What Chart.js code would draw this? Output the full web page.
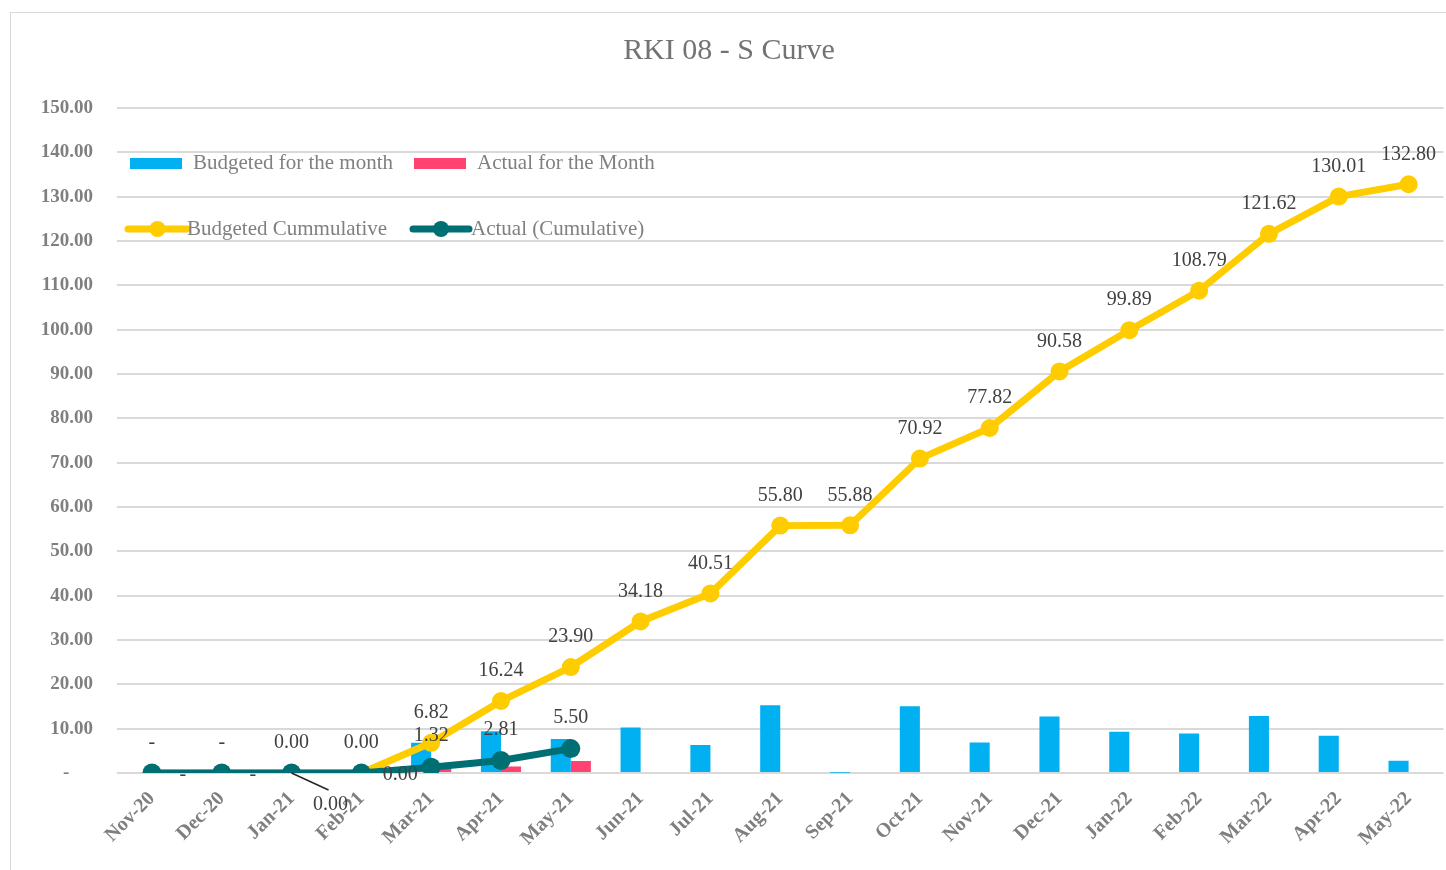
<!DOCTYPE html>
<html>
<head>
<meta charset="utf-8">
<title>RKI 08 - S Curve</title>
<script src="https://cdn.jsdelivr.net/npm/chart.js@4.4.0/dist/chart.umd.min.js"></script>
<style>
    html, body { margin: 0; padding: 0; background: #fff; overflow: hidden; }
    #frame {
        position: absolute;
        left: 10px;
        top: 12px;
        width: 1442px;
        height: 858px;
        border-left: 1px solid #d9d9d9;
        border-top: 1px solid #d9d9d9;
    }
    canvas { display: block; }
</style>
</head>
<body>
<div id="frame"><canvas id="sCurve"></canvas></div>
<script>
// Months on the x axis
const months = ['Nov-20', 'Dec-20', 'Jan-21', 'Feb-21', 'Mar-21', 'Apr-21', 'May-21', 'Jun-21', 'Jul-21',
    'Aug-21', 'Sep-21', 'Oct-21', 'Nov-21', 'Dec-21', 'Jan-22', 'Feb-22', 'Mar-22', 'Apr-22', 'May-22'];

// Monthly values (bars)
const budgetedMonth = [0, 0, 0, 0, 6.82, 9.42, 7.66, 10.28, 6.33, 15.29, 0.08, 15.04, 6.90, 12.76, 9.31, 8.90, 12.83, 8.39, 2.79];
const actualMonth = [0, 0, 0, 0, 1.32, 1.49, 2.69, null, null, null, null, null, null, null, null, null, null, null, null];

// Cumulative values (lines)
const budgetedCum = [0, 0, 0.001, 0.001, 6.82, 16.24, 23.90, 34.18, 40.51, 55.80, 55.88, 70.92, 77.82, 90.58, 99.89, 108.79, 121.62, 130.01, 132.80];
const actualCum = [0, 0, 0.001, 0.001, 1.32, 2.81, 5.50, null, null, null, null, null, null, null, null, null, null, null, null];

// Y axis
const yMin = 0;
const yMax = 150;
const yStep = 10;

const colors = {
    budgetBar: '#00b0f0',
    actualBar: '#ff4270',
    budgetLine: '#ffcc00',
    actualLine: '#006f73',
    grid: '#d9d9d9',
    axisText: '#7f7f7f',
    label: '#404040',
    legendText: '#808080',
    title: '#737373'
};

const serif = "'Liberation Serif', 'DejaVu Serif', serif";

const fmt = v => (v === 0 ? '-' : v.toFixed(2));

// Title and legend drawn straight onto the canvas
const decorPlugin = {
    id: 'decor',
    afterDraw(chart) {
        const ctx = chart.ctx;
        const area = chart.chartArea;
        ctx.save();

        ctx.fillStyle = colors.title;
        ctx.font = '30px ' + serif;
        ctx.textAlign = 'center';
        ctx.textBaseline = 'middle';
        ctx.fillText('RKI 08 - S Curve', 718, 38);

        ctx.font = '21px ' + serif;
        ctx.textAlign = 'left';

        const x0 = area.left;
        const row1 = area.top + 55;
        const row2 = area.top + 121;

        // bar entries
        ctx.fillStyle = colors.budgetBar;
        ctx.fillRect(x0 + 13, row1 - 5, 52, 11);
        ctx.fillStyle = colors.actualBar;
        ctx.fillRect(x0 + 297, row1 - 5, 52, 11);
        ctx.fillStyle = colors.legendText;
        ctx.fillText('Budgeted for the month', x0 + 76, row1);
        ctx.fillText('Actual for the Month', x0 + 360, row1);

        // line entries
        const lineEntry = (xa, xb, color) => {
            ctx.strokeStyle = color;
            ctx.lineWidth = 7;
            ctx.lineCap = 'round';
            ctx.beginPath();
            ctx.moveTo(xa, row2);
            ctx.lineTo(xb, row2);
            ctx.stroke();
            ctx.fillStyle = color;
            ctx.beginPath();
            ctx.arc((xa + xb) / 2, row2, 8, 0, Math.PI * 2);
            ctx.fill();
        };
        lineEntry(x0 + 11, x0 + 70, colors.budgetLine);
        lineEntry(x0 + 296, x0 + 352, colors.actualLine);
        ctx.fillStyle = colors.legendText;
        ctx.fillText('Budgeted Cummulative', x0 + 70, row2);
        ctx.fillText('Actual (Cumulative)', x0 + 354, row2);

        ctx.restore();
    }
};

// Value labels for the two cumulative lines
const valueLabelPlugin = {
    id: 'valueLabels',
    afterDatasetsDraw(chart) {
        const ctx = chart.ctx;
        ctx.save();
        ctx.font = '20px ' + serif;
        ctx.fillStyle = colors.label;
        ctx.textAlign = 'center';
        ctx.textBaseline = 'middle';

        // dataset 1: budgeted cumulative
        chart.getDatasetMeta(1).data.forEach((pt, i) => {
            const v = budgetedCum[i];
            if (v == null) return;
            ctx.fillText(fmt(v), pt.x, pt.y - 30);
        });

        // dataset 0: actual cumulative
        chart.getDatasetMeta(0).data.forEach((pt, i) => {
            const v = actualCum[i];
            if (v == null) return;
            if (i < 2) {
                ctx.fillText(fmt(v), pt.x + 31, pt.y + 2);
            } else if (i === 2) {
                ctx.strokeStyle = '#262626';
                ctx.lineWidth = 1.5;
                ctx.beginPath();
                ctx.moveTo(pt.x, pt.y);
                ctx.lineTo(pt.x + 37, pt.y + 17);
                ctx.stroke();
                ctx.fillText(fmt(v), pt.x + 39, pt.y + 32);
            } else if (i === 3) {
                ctx.fillText(fmt(v), pt.x + 39, pt.y + 2);
            } else {
                ctx.fillText(fmt(v), pt.x, pt.y - 31);
            }
        });
        ctx.restore();
    }
};

new Chart(document.getElementById('sCurve'), {
    data: {
        labels: months,
        datasets: [{
            type: 'line',
            label: 'Actual (Cumulative)',
            data: actualCum,
            borderColor: colors.actualLine,
            backgroundColor: colors.actualLine,
            borderWidth: 7,
            pointRadius: 9.5,
            pointBorderWidth: 0,
            order: 1
        }, {
            type: 'line',
            label: 'Budgeted Cummulative',
            data: budgetedCum,
            borderColor: colors.budgetLine,
            backgroundColor: colors.budgetLine,
            borderWidth: 7,
            pointRadius: 9,
            pointBorderWidth: 0,
            order: 2
        }, {
            type: 'bar',
            label: 'Budgeted for the month',
            data: budgetedMonth,
            backgroundColor: colors.budgetBar,
            categoryPercentage: 0.575,
            barPercentage: 1,
            order: 3
        }, {
            type: 'bar',
            label: 'Actual for the Month',
            data: actualMonth,
            backgroundColor: colors.actualBar,
            categoryPercentage: 0.575,
            barPercentage: 1,
            order: 4
        }]
    },
    options: {
        responsive: true,
        maintainAspectRatio: false,
        animation: false,
        layout: { padding: { top: 95, right: 4, left: 0, bottom: 0 } },
        plugins: {
            legend: { display: false },
            title: { display: false },
            tooltip: { enabled: false }
        },
        scales: {
            x: {
                grid: { display: false },
                border: { display: false },
                ticks: {
                    color: colors.axisText,
                    font: { family: serif, size: 20, weight: 'bold' },
                    minRotation: 45,
                    maxRotation: 45,
                    padding: 6,
                    autoSkip: false
                },
                afterFit: s => { s.height = 98; }
            },
            y: {
                min: yMin,
                max: yMax,
                grid: { color: colors.grid, lineWidth: 2, drawTicks: false },
                border: { display: false },
                ticks: {
                    stepSize: yStep,
                    padding: 24,
                    color: colors.axisText,
                    font: { family: serif, size: 19, weight: 'bold' },
                    callback: v => (v === 0 ? '-     ' : v.toFixed(2))
                },
                afterFit: s => { s.width = 106; }
            }
        }
    },
    plugins: [valueLabelPlugin, decorPlugin]
});
</script>
</body>
</html>
